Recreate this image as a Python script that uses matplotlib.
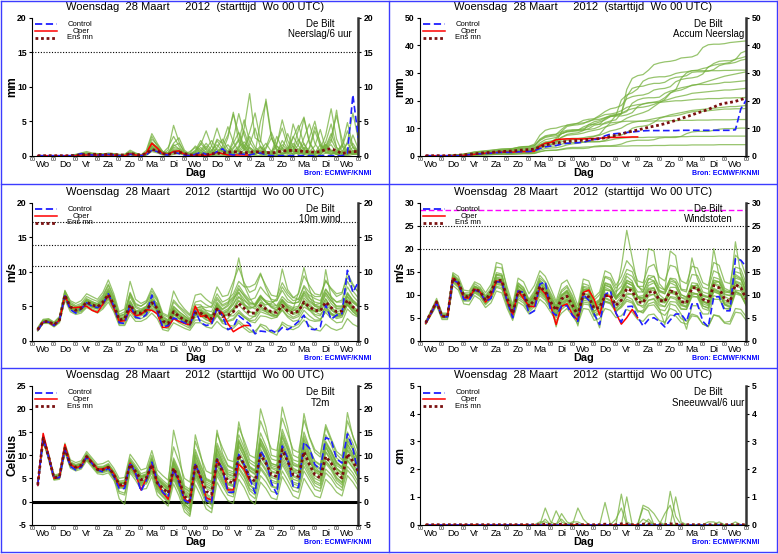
"""
EPS pluim De Bilt, 28 maart 2012: six panels in a blue frame.
"""

import matplotlib
matplotlib.use("Agg")
import matplotlib.pyplot as plt
from matplotlib.lines import Line2D

plt.rcParams["font.family"] = ["Liberation Sans", "DejaVu Sans"]
plt.rcParams["axes.unicode_minus"] = False

W, H = 778, 554

hours = list(range(6, 361, 6))
oper_hours = hours[:40]
day_names = ["Wo", "Do", "Vr", "Za", "Zo", "Ma", "Di", "Wo",
             "Do", "Vr", "Za", "Zo", "Ma", "Di", "Wo"]
title = "Woensdag  28 Maart     2012  (starttijd  Wo 00 UTC)"

# ---------------- Neerslag / 6 uur (mm)
precip_mean = [
    0, 0, 0, 0, 0, 0, 0, 0.05, 0.1, 0.2,
    0.2, 0.2, 0.15, 0.2, 0.2, 0.1, 0.1, 0.3, 0.2, 0.1,
    0.3, 0.9, 0.7, 0.3, 0.2, 0.4, 0.5, 0.3, 0.1, 0.1,
    0.1, 0.1, 0.3, 0.3, 0.4, 0.5, 0.6, 0.5, 0.4, 0.5,
    0.6, 0.5, 0.5, 0.4, 0.5, 0.7, 0.7, 0.8, 0.7, 0.6,
    0.6, 0.5, 0.6, 0.9, 1.0, 0.7, 0.3, 0.5, 0.6, 0.6]
precip_control = [
    0, 0, 0, 0, 0, 0, 0, 0.1, 0.3, 0.2,
    0.1, 0.1, 0.1, 0.2, 0.1, 0, 0, 0.2, 0.1, 0,
    0.1, 0.8, 0.6, 0.2, 0.1, 0.5, 0.3, 0.1, 0, 0.2,
    0.5, 0.2, 0.1, 0.6, 1.0, 0.3, 0.1, 0.3, 0.2, 0.1,
    0.3, 0.4, 0.1, 0, 0, 0, 0, 0, 0, 0,
    0, 0, 0, 0, 0, 0, 0, 0.3, 8.8, 2.6]
precip_oper = [
    0, 0, 0, 0, 0, 0, 0, 0, 0.1, 0.1,
    0.1, 0.1, 0.1, 0.1, 0.1, 0, 0, 0.3, 0.1, 0,
    0.4, 1.8, 1.1, 0.3, 0.2, 0.6, 0.7, 0.2, 0, 0.1,
    0.1, 0, 0.2, 0.5, 0.3, 0.1, 0.1, 0.1, 0.1, 0.1]
precip_members = [
    [0, 0, 0, 0, 0, 0, 0, 0.1, 0.3, 0.4,
     0.3, 0.2, 0.1, 0.3, 0.2, 0, 0.1, 0.5, 0.2, 0,
     0.6, 2.8, 1.4, 0.4, 0.2, 1.0, 0.8, 0.2, 0, 0,
     0, 0.2, 0.8, 1.6, 0.6, 0.2, 2.4, 6.1, 3.0, 0.4,
     0.2, 1.2, 0.6, 0, 0.4, 2.2, 1.0, 0.2, 0.6, 1.8,
     0.4, 0, 0.2, 1.0, 2.4, 0.8, 0.2, 0.6, 1.2, 0.4],
    [0, 0, 0, 0, 0, 0, 0, 0, 0.1, 0.2,
     0.2, 0.1, 0.1, 0.2, 0.1, 0, 0, 0.2, 0.1, 0,
     0.2, 1.2, 0.8, 0.2, 0.8, 4.4, 2.0, 0.4, 0.2, 0.4,
     1.2, 0.4, 0.2, 0.6, 1.0, 0.4, 0.2, 1.0, 3.6, 1.2,
     0.6, 0.2, 0, 0.2, 1.4, 0.8, 0.4, 4.6, 2.2, 0.8,
     0.2, 0.6, 0.4, 1.6, 0.8, 0.2, 0, 0.4, 3.0, 1.0],
    [0, 0, 0, 0, 0, 0, 0, 0.2, 0.4, 0.6,
     0.4, 0.3, 0.2, 0.4, 0.3, 0.1, 0.2, 0.8, 0.4, 0.1,
     0.4, 1.8, 1.2, 0.6, 0.2, 0.8, 0.6, 0.2, 0.4, 1.4,
     0.8, 0.2, 0, 0.2, 0.6, 2.6, 6.3, 2.0, 0.8, 1.6,
     4.0, 1.2, 0.4, 0.2, 0, 0.4, 1.2, 0.6, 0.2, 0.8,
     2.6, 5.0, 1.6, 0.4, 0.6, 0.2, 0, 0.2, 0.8, 0.4],
    [0, 0, 0, 0, 0, 0, 0, 0, 0, 0.1,
     0.1, 0.1, 0.2, 0.1, 0.1, 0, 0, 0.1, 0.1, 0,
     0.1, 0.6, 0.4, 0.1, 0, 0.2, 0.3, 0.1, 0, 0,
     0.2, 0.6, 0.2, 0, 0, 0.2, 0.4, 0.8, 0.4, 0.2,
     0, 0, 0.2, 0.6, 0.2, 0, 0, 0.4, 1.0, 0.6,
     0.2, 0, 0, 0.4, 0.8, 0.2, 0, 0.2, 0.4, 0.2],
    [0, 0, 0, 0, 0, 0, 0, 0.1, 0.2, 0.3,
     0.3, 0.2, 0.1, 0.2, 0.2, 0.1, 0.1, 0.4, 0.2, 0,
     0.2, 1.0, 0.6, 0.2, 0.4, 1.6, 1.0, 0.4, 0.2, 0.8,
     2.2, 1.0, 0.4, 1.0, 0.6, 0.2, 0.6, 1.4, 4.0, 9.0,
     2.6, 2.0, 8.2, 3.0, 0.6, 0.2, 0.6, 1.4, 0.4, 0.2,
     1.0, 3.6, 1.4, 0.4, 0.2, 0.6, 1.6, 0.6, 0.2, 0.2],
    [0, 0, 0, 0, 0, 0, 0, 0, 0.1, 0.2,
     0.1, 0.1, 0.1, 0.2, 0.2, 0.1, 0, 0.3, 0.2, 0.1,
     0.3, 1.4, 1.0, 0.4, 1.2, 2.8, 1.4, 0.2, 0, 0.2,
     0.6, 1.4, 0.4, 2.2, 1.0, 0.2, 0, 0.4, 0.8, 2.8,
     1.2, 0.6, 0.2, 0.4, 1.8, 4.0, 1.4, 0.6, 1.6, 5.4,
     2.0, 0.6, 0.2, 0.8, 2.0, 6.6, 1.4, 0.2, 0.4, 0.6],
    [0, 0, 0, 0, 0, 0, 0, 0.1, 0.2, 0.2,
     0.2, 0.3, 0.2, 0.3, 0.3, 0.2, 0.2, 0.6, 0.3, 0.1,
     0.8, 3.2, 1.8, 0.6, 0.2, 0.6, 0.4, 0.2, 0.6, 1.2,
     0.4, 0.2, 1.4, 4.0, 1.6, 0.6, 1.2, 2.4, 1.0, 0.4,
     0.2, 0.8, 1.8, 0.6, 0.2, 1.0, 3.2, 1.2, 0.4, 0.2,
     0.6, 1.4, 3.8, 1.0, 0.4, 0.2, 0.6, 1.8, 0.6, 0.8],
    [0, 0, 0, 0, 0, 0, 0, 0, 0.1, 0.1,
     0.1, 0.1, 0.1, 0.1, 0.1, 0, 0, 0.2, 0.1, 0,
     0.1, 0.8, 0.6, 0.2, 0.1, 0.4, 0.6, 0.4, 0.2, 0.4,
     0.2, 0, 0, 0.4, 1.2, 0.6, 0.2, 0.8, 1.6, 0.6,
     0.2, 0.4, 1.0, 2.6, 1.0, 0.2, 0.4, 0.8, 2.4, 1.0,
     0.4, 0.2, 0.6, 2.0, 4.6, 1.2, 0.2, 0, 0.2, 0.4],
    [0, 0, 0, 0, 0, 0, 0, 0.1, 0.3, 0.4,
     0.2, 0.2, 0.2, 0.3, 0.2, 0.1, 0.1, 0.4, 0.2, 0.1,
     0.4, 2.0, 1.2, 0.4, 0.4, 1.8, 2.6, 0.8, 0.2, 0.2,
     0.4, 1.0, 2.2, 0.8, 0.2, 0.4, 1.8, 3.4, 1.4, 0.4,
     0.2, 0.6, 0.4, 0.2, 0.6, 1.6, 0.8, 0.2, 0.4, 1.2,
     0.6, 0.2, 0.4, 1.2, 2.8, 5.8, 2.4, 0.6, 0.2, 0.4],
    [0, 0, 0, 0, 0, 0, 0, 0, 0.1, 0.2,
     0.2, 0.2, 0.1, 0.2, 0.2, 0.1, 0.1, 0.2, 0.1, 0,
     0.2, 1.0, 0.6, 0.2, 0.2, 0.6, 0.4, 0.2, 0, 0.2,
     0.4, 0.2, 0.6, 2.4, 1.8, 4.2, 2.0, 0.6, 0.2, 0,
     0.6, 1.4, 0.6, 0.2, 0, 0.2, 0.8, 2.8, 1.4, 0.4,
     0.2, 0.4, 1.6, 0.8, 0.2, 0.6, 1.4, 4.8, 1.4, 0.6],
    [0, 0, 0, 0, 0, 0, 0, 0.1, 0.1, 0.2,
     0.2, 0.2, 0.2, 0.2, 0.2, 0.1, 0.1, 0.3, 0.2, 0.1,
     0.2, 1.6, 1.2, 0.4, 0.2, 0.8, 0.6, 0.2, 0, 0,
     0, 0, 0.2, 0.6, 0.2, 0, 0.2, 1.2, 2.0, 1.0,
     0.4, 5.0, 7.8, 2.6, 0.8, 0.2, 0.6, 1.8, 0.8, 0.2,
     0, 0.2, 0.8, 1.6, 0.6, 0.2, 0.4, 1.0, 0.4, 0.2],
    [0, 0, 0, 0, 0, 0, 0, 0, 0.2, 0.3,
     0.2, 0.1, 0.1, 0.2, 0.2, 0, 0, 0.3, 0.2, 0,
     0.2, 1.2, 0.8, 0.2, 0.1, 0.6, 0.8, 0.4, 0.2, 0.6,
     1.8, 0.8, 0.2, 0.4, 0.8, 1.6, 0.6, 0.2, 0.4, 1.2,
     0.6, 0.2, 0.6, 0.4, 2.8, 1.0, 0.4, 0.2, 0.6, 2.6,
     4.6, 1.8, 0.6, 1.4, 3.2, 1.2, 0.4, 2.0, 6.2, 2.4],
    [0, 0, 0, 0, 0, 0, 0, 0.1, 0.2, 0.3,
     0.2, 0.2, 0.2, 0.3, 0.2, 0.1, 0.1, 0.4, 0.3, 0.1,
     0.4, 2.4, 1.6, 0.6, 0.4, 1.2, 1.0, 0.4, 0.2, 0.4,
     0.8, 1.8, 0.8, 0.4, 1.4, 3.0, 6.0, 3.2, 1.0, 0.4,
     0.2, 0.6, 1.2, 3.4, 1.4, 0.4, 0.2, 1.0, 3.8, 5.6,
     1.8, 0.6, 0.2, 1.0, 1.6, 0.4, 0.2, 0.8, 1.8, 0.6],
    [0, 0, 0, 0, 0, 0, 0, 0, 0.1, 0.2,
     0.1, 0.1, 0.1, 0.2, 0.1, 0, 0, 0.2, 0.1, 0,
     0.2, 1.4, 0.8, 0.2, 0.2, 1.4, 1.8, 0.6, 0.2, 0.6,
     1.6, 3.6, 1.4, 0.4, 0.2, 0.4, 1.0, 2.2, 5.2, 2.0,
     0.8, 0.4, 0.2, 0.6, 1.6, 5.2, 2.2, 0.6, 0.2, 0.4,
     1.2, 4.2, 2.0, 0.6, 0.2, 0.4, 1.2, 3.6, 1.2, 0.4],
    [0, 0, 0, 0, 0, 0, 0, 0.1, 0.2, 0.2,
     0.2, 0.2, 0.2, 0.2, 0.2, 0.1, 0.1, 0.3, 0.2, 0.1,
     0.3, 1.8, 1.0, 0.4, 0.2, 0.6, 0.6, 0.2, 0, 0.2,
     0.4, 0.4, 0.2, 1.2, 2.4, 1.0, 0.4, 0.6, 1.2, 3.4,
     6.2, 2.2, 0.6, 0.2, 0.4, 1.2, 0.6, 2.6, 4.4, 1.6,
     0.6, 0.4, 1.0, 3.0, 6.8, 2.4, 0.6, 0.4, 0.6, 0.2],
]

# ---------------- Accum neerslag (mm)
accum_mean = [
    0, 0, 0, 0, 0, 0.1, 0.2, 0.3, 0.5, 0.7,
    0.9, 1.1, 1.2, 1.4, 1.5, 1.6, 1.7, 1.9, 2.1, 2.2,
    2.4, 3.2, 3.9, 4.3, 4.6, 4.9, 5.2, 5.4, 5.5, 5.6,
    5.8, 6.0, 6.2, 6.5, 7.0, 7.4, 7.9, 8.4, 8.9, 9.3,
    9.8, 10.3, 10.7, 11.1, 11.6, 12.2, 12.8, 13.5, 14.1, 14.8,
    15.5, 16.1, 16.8, 17.6, 18.5, 19.0, 19.3, 19.7, 20.3, 21.0]
accum_control = [
    0, 0, 0, 0, 0, 0, 0, 0.1, 0.4, 0.6,
    0.7, 0.8, 0.9, 1.1, 1.2, 1.2, 1.2, 1.4, 1.5, 1.5,
    1.8, 2.6, 3.2, 3.5, 3.7, 4.2, 4.5, 4.6, 4.7, 4.9,
    5.4, 5.8, 6.2, 7.2, 7.8, 8.0, 8.2, 8.4, 8.6, 8.8,
    9.0, 9.1, 9.1, 9.1, 9.1, 9.1, 9.1, 9.2, 9.2, 9.2,
    9.2, 9.2, 9.2, 9.2, 9.2, 9.2, 9.2, 9.4, 17.0, 20.2]
accum_oper = [
    0, 0, 0, 0, 0, 0, 0, 0.1, 0.3, 0.5,
    0.7, 0.9, 1.0, 1.2, 1.3, 1.3, 1.3, 1.4, 1.5, 1.5,
    1.6, 3.5, 4.5, 4.8, 5.8, 6.0, 6.1, 6.1, 6.1, 6.1,
    6.2, 6.2, 6.3, 6.5, 6.6, 6.6, 6.7, 6.7, 6.8, 6.8]
accum_members = [
    [0, 0, 0, 0, 0, 0.1, 0.2, 0.4, 0.7, 1.0,
     1.2, 1.4, 1.5, 1.8, 2.0, 2.1, 2.2, 2.6, 2.8, 2.9,
     3.4, 6.0, 7.2, 7.6, 7.8, 8.6, 9.2, 9.4, 9.4, 9.4,
     9.5, 9.8, 10.6, 12.0, 12.6, 13.0, 15.4, 21.5, 24.4, 25.0,
     25.2, 25.8, 26.2, 26.2, 26.6, 27.8, 28.4, 28.6, 29.0, 30.2,
     30.4, 30.4, 30.6, 31.2, 32.6, 33.2, 33.4, 33.8, 34.6, 35.0],
    [0, 0, 0, 0, 0, 0, 0.1, 0.2, 0.4, 0.6,
     0.8, 0.9, 1.0, 1.2, 1.3, 1.3, 1.3, 1.5, 1.6, 1.6,
     1.8, 3.0, 3.8, 4.0, 4.8, 8.8, 10.6, 11.0, 11.2, 11.6,
     12.6, 13.0, 13.2, 13.8, 14.6, 15.0, 15.2, 16.0, 19.0, 20.2,
     20.8, 21.0, 21.0, 21.2, 22.6, 23.4, 23.8, 28.0, 30.0, 30.8,
     31.0, 31.6, 32.0, 33.4, 34.2, 34.4, 34.4, 34.8, 37.2, 38.0],
    [0, 0, 0, 0, 0, 0.1, 0.3, 0.6, 1.0, 1.4,
     1.6, 1.8, 2.0, 2.2, 2.4, 2.5, 2.6, 3.0, 3.2, 3.3,
     3.7, 5.5, 6.6, 7.0, 7.2, 8.0, 8.6, 8.8, 9.2, 10.4,
     11.2, 11.4, 11.4, 11.6, 12.2, 14.6, 20.2, 22.0, 22.8, 24.2,
     27.0, 28.0, 28.4, 28.6, 28.6, 29.0, 29.8, 30.2, 30.4, 30.8,
     30.8, 30.8, 30.8, 30.8, 30.8, 30.9, 30.9, 31.0, 31.0, 31.0],
    [0, 0, 0, 0, 0, 0, 0, 0, 0, 0.1,
     0.2, 0.3, 0.4, 0.5, 0.6, 0.6, 0.6, 0.7, 0.8, 0.8,
     0.9, 1.5, 1.9, 2.0, 2.0, 2.2, 2.5, 2.6, 2.6, 2.6,
     2.8, 3.4, 3.6, 3.6, 3.6, 3.8, 4.2, 5.0, 5.4, 5.6,
     5.6, 5.6, 5.8, 6.4, 6.6, 6.6, 6.6, 7.0, 8.0, 8.6,
     8.8, 8.8, 8.8, 9.2, 9.6, 9.8, 9.8, 9.9, 10.0, 10.0],
    [0, 0, 0, 0, 0, 0.1, 0.2, 0.4, 0.6, 0.9,
     1.2, 1.4, 1.5, 1.7, 1.9, 2.0, 2.1, 2.5, 2.7, 2.7,
     2.9, 3.9, 4.5, 4.7, 5.1, 6.7, 7.7, 8.1, 8.3, 9.1,
     11.3, 12.3, 12.7, 13.7, 14.3, 14.5, 15.1, 24.0, 28.0, 29.0,
     29.4, 31.0, 33.0, 33.6, 34.0, 34.2, 34.6, 35.4, 35.6, 35.8,
     36.6, 39.2, 40.2, 40.4, 40.4, 40.6, 41.0, 41.2, 41.4, 41.6],
    [0, 0, 0, 0, 0, 0, 0.1, 0.2, 0.3, 0.5,
     0.6, 0.7, 0.8, 1.0, 1.2, 1.3, 1.3, 1.6, 1.8, 1.9,
     2.2, 3.6, 4.6, 5.0, 6.2, 8.0, 8.8, 9.0, 9.0, 9.2,
     9.8, 11.0, 11.4, 13.4, 14.2, 14.4, 14.4, 14.8, 15.6, 17.8,
     18.8, 19.2, 19.4, 19.8, 21.0, 22.8, 23.4, 23.8, 24.6, 25.6,
     25.8, 25.8, 25.8, 26.0, 26.2, 26.6, 26.6, 26.8, 27.0, 27.2],
    [0, 0, 0, 0, 0, 0.1, 0.2, 0.3, 0.5, 0.7,
     0.9, 1.2, 1.4, 1.7, 2.0, 2.2, 2.4, 3.0, 3.3, 3.4,
     4.2, 7.4, 9.2, 9.8, 10.0, 10.6, 11.0, 11.2, 11.8, 12.8,
     13.2, 13.4, 14.6, 16.0, 17.0, 17.4, 18.2, 20.6, 21.4, 21.8,
     22.0, 22.6, 23.8, 24.2, 24.4, 25.0, 26.8, 27.6, 28.0, 28.2,
     28.6, 29.6, 32.2, 32.8, 33.2, 33.4, 33.8, 35.0, 35.4, 36.0],
    [0, 0, 0, 0, 0, 0, 0, 0.1, 0.2, 0.3,
     0.4, 0.5, 0.6, 0.7, 0.8, 0.8, 0.8, 1.0, 1.1, 1.1,
     1.2, 2.0, 2.6, 2.8, 2.9, 3.3, 3.9, 4.3, 4.5, 4.9,
     5.1, 5.1, 5.1, 5.5, 6.7, 7.3, 7.5, 8.3, 9.9, 10.5,
     10.7, 11.1, 12.1, 13.5, 14.1, 14.3, 14.5, 14.9, 15.5, 15.9,
     16.1, 16.1, 16.3, 16.5, 16.7, 16.9, 16.9, 17.0, 17.0, 17.1],
    [0, 0, 0, 0, 0, 0.1, 0.3, 0.6, 0.9, 1.3,
     1.5, 1.7, 1.9, 2.2, 2.4, 2.5, 2.6, 3.0, 3.2, 3.3,
     3.7, 5.7, 6.9, 7.3, 7.7, 9.5, 11.1, 11.5, 11.7, 11.9,
     12.3, 13.3, 14.1, 14.9, 15.1, 15.5, 16.3, 17.5, 18.1, 18.5,
     18.7, 19.1, 19.3, 19.3, 19.5, 19.7, 19.9, 19.9, 20.1, 20.3,
     20.5, 20.5, 20.7, 20.7, 20.7, 20.9, 20.9, 21.0, 21.0, 21.1],
    [0, 0, 0, 0, 0, 0.1, 0.2, 0.3, 0.5, 0.7,
     0.9, 1.0, 1.1, 1.3, 1.4, 1.5, 1.6, 1.9, 2.0, 2.1,
     2.4, 3.8, 4.6, 4.9, 5.1, 5.7, 6.1, 6.3, 6.3, 6.5,
     6.9, 7.1, 7.7, 10.1, 11.9, 12.1, 12.3, 12.5, 12.5, 12.5,
     12.5, 12.5, 12.6, 12.6, 12.6, 12.7, 12.7, 12.8, 12.8, 12.8,
     12.9, 12.9, 12.9, 13.0, 13.0, 13.0, 13.0, 13.1, 13.1, 13.1],
    [0, 0, 0, 0, 0, 0, 0.1, 0.2, 0.3, 0.4,
     0.5, 0.6, 0.7, 0.8, 0.9, 0.9, 0.9, 1.1, 1.2, 1.2,
     1.4, 2.6, 3.2, 3.4, 3.6, 4.2, 4.6, 4.8, 4.8, 4.9,
     5.0, 5.0, 5.1, 5.3, 5.7, 6.1, 6.3, 6.5, 6.6, 6.6,
     6.6, 6.7, 6.7, 6.8, 6.8, 6.8, 6.9, 6.9, 6.9, 7.0,
     7.0, 7.0, 7.0, 7.0, 7.1, 7.1, 7.1, 7.1, 7.1, 7.1],
    [0, 0, 0, 0, 0, 0, 0, 0.1, 0.2, 0.2,
     0.3, 0.3, 0.4, 0.5, 0.5, 0.5, 0.5, 0.6, 0.7, 0.7,
     0.8, 1.4, 1.8, 1.9, 2.0, 2.4, 2.8, 3.0, 3.0, 3.1,
     3.2, 3.2, 3.3, 3.4, 3.4, 3.4, 3.5, 3.5, 3.6, 3.6,
     3.6, 3.6, 3.7, 3.7, 3.7, 3.8, 3.8, 3.8, 3.8, 3.9,
     3.9, 3.9, 3.9, 3.9, 4.0, 4.0, 4.0, 4.0, 4.0, 4.0],
    [0, 0, 0, 0, 0, 0.1, 0.2, 0.4, 0.6, 0.8,
     1.0, 1.2, 1.3, 1.5, 1.7, 1.8, 1.9, 2.2, 2.4, 2.5,
     2.8, 4.6, 5.8, 6.2, 6.6, 8.0, 8.8, 9.2, 9.4, 9.8,
     10.6, 11.6, 12.2, 13.0, 14.2, 14.8, 15.4, 16.4, 17.0, 17.4,
     17.6, 18.0, 18.6, 19.4, 20.0, 20.6, 21.2, 21.6, 22.0, 22.6,
     22.8, 23.0, 23.2, 23.4, 23.6, 23.8, 23.8, 24.0, 24.2, 24.4],
    [0, 0, 0, 0, 0, 0, 0.1, 0.2, 0.4, 0.5,
     0.6, 0.7, 0.8, 1.0, 1.1, 1.2, 1.2, 1.4, 1.5, 1.6,
     1.8, 3.2, 4.0, 4.2, 4.4, 5.0, 5.6, 5.8, 5.8, 6.0,
     6.4, 7.0, 7.4, 8.2, 9.0, 9.4, 10.0, 11.2, 12.0, 12.4,
     12.6, 13.0, 13.4, 13.8, 14.2, 14.8, 15.2, 15.6, 16.0, 16.4,
     16.6, 16.8, 17.0, 17.2, 17.4, 17.6, 17.8, 17.8, 18.0, 18.2],
    [0, 0, 0, 0, 0, 0.1, 0.2, 0.3, 0.5, 0.7,
     0.8, 1.0, 1.1, 1.3, 1.5, 1.6, 1.6, 1.9, 2.0, 2.1,
     2.4, 4.0, 5.0, 5.3, 5.6, 6.6, 7.4, 7.6, 7.8, 8.2,
     8.8, 9.2, 9.6, 10.4, 11.0, 11.6, 12.4, 13.6, 14.4, 15.0,
     15.6, 16.4, 17.8, 19.2, 20.4, 22.6, 24.0, 24.6, 25.0, 25.4,
     25.8, 26.4, 27.0, 27.6, 28.2, 28.8, 29.2, 29.6, 30.0, 30.4],
]

# ---------------- 10m wind (m/s)
wind_mean = [
    1.6, 2.75, 2.8, 2.3, 3.0, 6.6, 4.9, 4.4, 4.7, 5.6,
    5.2, 4.9, 5.6, 6.7, 5.2, 3.0, 3.2, 5.2, 4.0, 4.0,
    4.4, 5.5, 4.7, 2.85, 2.5, 4.2, 3.5, 3.0, 2.5, 4.0,
    4.0, 3.5, 3.2, 4.6, 3.5, 3.7, 4.2, 5.4, 4.7, 4.0,
    4.0, 5.1, 4.6, 4.2, 4.1, 5.1, 4.3, 4.0, 4.3, 5.6,
    4.9, 4.4, 4.3, 5.6, 4.8, 4.2, 4.3, 5.9, 4.9, 4.3]
wind_control = [
    1.5, 2.7, 2.7, 2.2, 3.0, 6.5, 4.5, 4.0, 4.6, 5.5,
    5.0, 4.8, 5.3, 6.8, 5.0, 2.6, 2.5, 5.3, 3.4, 3.2,
    3.8, 6.6, 4.2, 2.0, 2.2, 3.3, 3.0, 2.6, 2.3, 4.3,
    2.6, 2.2, 2.4, 4.8, 3.6, 1.6, 2.0, 3.6, 3.0, 2.4,
    1.0, 1.4, 1.3, 1.5, 1.1, 1.9, 1.6, 2.1, 2.8, 3.7,
    1.7, 1.6, 2.0, 5.2, 3.1, 3.7, 3.9, 10.2, 7.0, 8.5]
wind_oper = [
    1.6, 2.7, 2.7, 2.2, 3.0, 6.5, 4.8, 4.8, 4.9, 5.0,
    4.4, 4.1, 5.3, 6.6, 4.7, 2.8, 2.9, 4.5, 3.6, 3.8,
    4.5, 4.4, 3.9, 1.9, 2.0, 3.2, 2.8, 2.5, 2.3, 5.0,
    3.5, 3.7, 2.6, 4.6, 4.0, 2.5, 1.3, 1.8, 2.2, 2.2]
wind_members = [
    [1.7, 2.9, 3.0, 2.5, 3.2, 7.1, 5.3, 4.9, 5.2, 6.1,
     5.7, 5.3, 6.2, 7.6, 6.0, 3.4, 3.8, 6.4, 4.8, 4.4,
     5.0, 6.6, 5.2, 3.3, 2.9, 5.0, 4.2, 3.6, 3.0, 4.6,
     4.4, 3.8, 3.2, 5.6, 4.6, 5.2, 8.0, 12.0, 8.0, 6.2,
     5.0, 6.0, 4.8, 3.9, 3.6, 5.0, 4.0, 3.4, 3.8, 6.2,
     5.3, 4.6, 4.2, 5.7, 4.6, 3.8, 3.7, 6.4, 5.5, 4.9],
    [1.5, 2.6, 2.7, 2.1, 2.8, 6.2, 4.6, 4.1, 4.3, 5.2,
     4.8, 4.6, 5.1, 6.2, 4.7, 2.6, 2.7, 4.6, 3.5, 3.6,
     3.9, 4.8, 4.1, 2.3, 2.0, 3.5, 2.9, 2.5, 2.0, 3.4,
     3.6, 3.0, 2.8, 3.8, 2.7, 2.9, 3.2, 4.1, 3.4, 2.8,
     2.6, 3.6, 3.5, 3.2, 3.4, 4.8, 4.2, 4.6, 7.0, 10.6,
     7.5, 5.2, 4.8, 6.0, 4.9, 4.0, 3.9, 5.2, 4.2, 3.5],
    [1.6, 2.8, 2.9, 2.4, 3.1, 6.8, 5.0, 4.5, 4.8, 5.8,
     5.3, 5.1, 5.9, 7.2, 5.6, 3.2, 3.5, 5.8, 4.4, 4.3,
     4.8, 5.9, 5.1, 3.1, 2.8, 4.7, 3.9, 3.4, 2.8, 4.5,
     4.6, 4.0, 3.7, 5.0, 3.8, 3.6, 3.6, 4.4, 3.6, 3.1,
     3.6, 5.6, 5.2, 5.4, 6.1, 10.4, 7.4, 6.3, 6.0, 7.8,
     6.3, 5.0, 4.6, 6.1, 4.8, 4.2, 4.4, 6.8, 5.6, 5.0],
    [1.5, 2.7, 2.7, 2.2, 2.9, 6.4, 4.7, 4.3, 4.5, 5.3,
     4.9, 4.6, 5.2, 6.3, 4.8, 2.8, 2.9, 4.8, 3.7, 3.8,
     4.1, 5.2, 4.4, 2.5, 2.1, 3.8, 3.2, 2.7, 2.2, 3.7,
     3.7, 3.1, 2.6, 3.7, 2.5, 2.3, 2.1, 2.9, 2.2, 1.6,
     1.0, 2.4, 2.1, 1.2, 0.8, 2.7, 2.2, 2.0, 2.4, 3.6,
     3.0, 2.8, 2.9, 4.4, 3.8, 3.5, 3.7, 5.3, 4.4, 3.8],
    [1.8, 3.0, 3.1, 2.6, 3.4, 7.3, 5.6, 5.1, 5.4, 6.4,
     6.0, 5.7, 6.6, 8.2, 6.4, 3.8, 4.2, 7.0, 5.4, 5.0,
     5.5, 6.8, 5.8, 3.8, 3.4, 5.9, 5.0, 4.3, 3.6, 5.6,
     5.8, 5.2, 4.8, 6.3, 5.2, 5.6, 6.4, 8.0, 6.8, 5.9,
     6.2, 7.8, 6.8, 6.0, 5.8, 7.3, 6.0, 5.4, 5.6, 6.9,
     5.8, 5.2, 5.4, 7.4, 6.2, 5.6, 5.9, 8.6, 7.2, 6.2],
    [1.6, 2.7, 2.8, 2.3, 3.0, 6.5, 4.8, 4.4, 4.6, 5.5,
     5.1, 4.8, 5.5, 6.6, 5.1, 2.9, 3.0, 4.9, 3.7, 3.8,
     4.3, 5.6, 4.8, 2.6, 2.3, 4.0, 3.4, 2.9, 2.4, 3.8,
     3.8, 3.4, 3.4, 4.9, 3.9, 4.3, 5.2, 7.0, 6.0, 5.0,
     4.6, 5.5, 4.6, 3.9, 3.6, 4.5, 3.6, 3.2, 3.5, 4.9,
     4.4, 4.4, 4.8, 6.9, 5.8, 5.0, 5.0, 7.0, 5.8, 5.0],
    [1.7, 2.8, 2.8, 2.3, 3.1, 6.7, 4.9, 4.5, 4.8, 5.7,
     5.2, 4.9, 5.7, 6.9, 5.3, 3.1, 3.3, 5.4, 4.1, 4.1,
     4.6, 5.8, 4.9, 2.9, 2.6, 4.4, 3.6, 3.1, 2.6, 4.2,
     4.3, 3.9, 3.6, 5.4, 4.2, 4.6, 5.4, 6.4, 5.2, 4.6,
     5.0, 6.4, 5.6, 5.0, 4.8, 5.8, 4.6, 4.0, 4.2, 5.4,
     4.4, 3.6, 3.1, 4.1, 3.2, 2.6, 2.7, 4.6, 3.8, 3.4],
    [1.5, 2.7, 2.7, 2.2, 2.9, 6.3, 4.6, 4.2, 4.5, 5.4,
     5.0, 4.7, 5.4, 6.5, 5.0, 2.8, 3.0, 4.9, 3.8, 3.9,
     4.2, 5.3, 4.4, 2.6, 2.3, 3.9, 3.2, 2.8, 2.3, 3.8,
     4.0, 3.7, 3.6, 5.3, 4.5, 5.0, 6.0, 7.6, 6.4, 5.4,
     5.4, 6.6, 5.6, 4.8, 4.4, 5.4, 4.4, 3.8, 4.0, 5.5,
     5.0, 4.6, 4.4, 5.3, 4.4, 3.9, 4.0, 5.6, 4.6, 4.0],
    [1.6, 2.8, 2.9, 2.3, 3.0, 6.6, 5.0, 4.6, 4.9, 5.9,
     5.5, 5.1, 5.8, 7.0, 5.4, 3.1, 3.3, 5.4, 4.2, 4.2,
     4.6, 5.7, 4.9, 3.0, 2.7, 4.5, 3.8, 3.2, 2.7, 4.4,
     4.4, 3.6, 2.9, 4.0, 2.9, 2.8, 3.0, 4.0, 3.4, 2.9,
     3.0, 4.2, 3.9, 3.6, 3.7, 5.0, 4.4, 4.3, 4.9, 7.0,
     6.2, 5.6, 5.4, 7.0, 5.8, 5.0, 5.0, 6.4, 5.0, 4.3],
    [1.7, 2.9, 2.9, 2.4, 3.2, 6.9, 5.1, 4.6, 4.9, 5.8,
     5.4, 5.1, 5.9, 7.2, 5.5, 3.3, 3.5, 5.7, 4.3, 4.2,
     4.6, 5.6, 4.6, 2.8, 2.6, 4.3, 3.7, 3.2, 2.8, 4.1,
     3.9, 3.3, 3.0, 4.4, 3.5, 3.8, 4.6, 6.3, 5.8, 5.2,
     5.2, 6.5, 5.6, 4.9, 4.5, 5.8, 4.9, 4.4, 4.4, 5.8,
     5.0, 4.2, 3.8, 4.8, 4.0, 3.6, 3.9, 5.6, 4.8, 4.4],
    [1.5, 2.6, 2.7, 2.2, 2.9, 6.4, 4.7, 4.2, 4.5, 5.4,
     5.0, 4.7, 5.4, 6.5, 5.0, 2.9, 3.1, 5.0, 3.9, 3.8,
     4.1, 5.1, 4.3, 2.6, 2.4, 3.9, 3.2, 2.8, 2.3, 3.7,
     3.8, 3.5, 3.4, 4.6, 3.6, 3.9, 4.5, 5.2, 4.3, 3.6,
     3.5, 4.5, 4.2, 4.0, 4.1, 5.6, 5.0, 4.6, 4.6, 5.5,
     4.5, 4.2, 4.4, 10.3, 6.2, 4.7, 4.8, 6.8, 5.9, 5.2],
    [1.6, 2.8, 2.8, 2.3, 3.0, 6.6, 4.9, 4.4, 4.8, 5.6,
     5.2, 4.9, 5.6, 6.8, 5.2, 3.0, 3.2, 5.1, 3.9, 3.9,
     4.4, 5.6, 4.8, 2.9, 2.6, 4.3, 3.6, 3.1, 2.5, 4.0,
     4.1, 3.7, 3.5, 4.9, 3.9, 4.1, 4.7, 5.8, 5.2, 4.8,
     4.9, 6.2, 5.6, 5.2, 5.1, 6.4, 5.6, 5.4, 5.6, 7.2,
     6.6, 6.1, 5.8, 7.5, 6.4, 5.6, 5.6, 7.8, 6.5, 5.6],
    [1.9, 3.1, 3.2, 2.7, 3.5, 7.2, 5.8, 5.4, 5.8, 6.8,
     6.4, 6.0, 7.0, 8.8, 6.8, 4.2, 4.6, 8.6, 6.0, 5.4,
     5.8, 7.6, 6.2, 4.0, 3.6, 7.2, 5.6, 4.6, 3.8, 6.6,
     6.8, 6.0, 5.4, 7.8, 6.4, 6.6, 8.6, 10.6, 8.4, 7.0,
     7.4, 9.6, 8.0, 6.6, 6.4, 8.4, 7.0, 6.2, 6.8, 9.4,
     8.0, 6.8, 6.6, 8.8, 7.4, 6.4, 6.8, 9.8, 8.2, 7.0],
    [1.4, 2.5, 2.5, 2.0, 2.6, 5.9, 4.2, 3.8, 4.0, 4.8,
     4.4, 4.0, 4.6, 5.6, 4.2, 2.2, 2.2, 3.8, 2.8, 2.8,
     3.2, 4.0, 3.2, 1.6, 1.4, 2.6, 2.2, 1.8, 1.5, 2.6,
     2.6, 2.0, 1.8, 2.8, 2.0, 1.6, 1.8, 2.6, 1.8, 1.2,
     1.4, 2.2, 1.6, 1.2, 1.4, 2.4, 1.8, 1.6, 2.0, 3.0,
     2.2, 1.6, 1.4, 2.4, 1.8, 1.5, 1.8, 3.2, 2.4, 2.0],
    [1.6, 2.8, 2.8, 2.3, 3.0, 6.7, 5.0, 4.6, 4.8, 5.8,
     5.4, 5.2, 6.0, 7.4, 5.8, 3.6, 3.9, 6.8, 5.0, 4.6,
     5.0, 6.2, 5.0, 3.0, 2.6, 4.6, 3.6, 3.0, 2.6, 4.6,
     5.0, 4.8, 5.0, 6.8, 5.6, 6.0, 6.8, 8.6, 7.8, 7.8,
     8.2, 9.8, 7.6, 5.8, 5.0, 6.0, 4.8, 4.0, 4.2, 5.6,
     4.6, 3.8, 3.6, 5.0, 4.0, 3.4, 3.6, 5.4, 4.6, 4.0],
    [1.7, 2.9, 2.9, 2.4, 3.1, 6.9, 5.4, 4.9, 5.0, 6.0,
     5.6, 5.4, 6.4, 8.0, 6.2, 3.6, 3.8, 6.8, 5.2, 5.0,
     5.6, 7.2, 6.0, 3.6, 3.0, 5.6, 4.8, 4.0, 3.2, 5.2,
     5.2, 4.2, 3.6, 5.2, 4.0, 4.4, 5.8, 7.4, 6.6, 5.6,
     5.2, 6.4, 5.8, 5.6, 5.8, 7.8, 6.6, 5.8, 6.0, 8.0,
     7.0, 6.4, 6.4, 8.6, 7.6, 6.8, 7.0, 9.2, 8.0, 7.0],
    [1.5, 2.6, 2.6, 2.1, 2.8, 6.3, 4.5, 4.0, 4.2, 5.0,
     4.6, 4.3, 4.8, 6.0, 4.4, 2.4, 2.4, 4.2, 3.2, 3.2,
     3.6, 4.6, 3.8, 2.0, 1.7, 3.2, 2.6, 2.2, 1.8, 3.0,
     3.0, 2.6, 2.4, 3.6, 2.8, 3.2, 4.2, 5.8, 5.0, 4.2,
     4.0, 5.0, 4.4, 4.2, 4.4, 6.0, 5.2, 4.8, 5.0, 6.6,
     5.6, 5.0, 5.0, 6.6, 5.4, 4.6, 4.6, 6.0, 4.8, 4.0],
    [1.6, 2.7, 2.8, 2.3, 3.0, 6.5, 4.8, 4.3, 4.6, 5.4,
     5.0, 4.7, 5.4, 6.4, 5.0, 3.0, 3.2, 5.4, 4.2, 4.4,
     4.8, 6.0, 5.4, 3.4, 2.9, 4.9, 4.2, 3.6, 3.0, 4.8,
     4.8, 4.4, 4.2, 6.0, 5.0, 5.4, 6.2, 7.0, 5.4, 4.2,
     3.8, 4.8, 4.2, 3.6, 3.4, 4.4, 3.4, 2.8, 3.0, 4.4,
     3.6, 3.0, 3.0, 4.6, 3.8, 3.2, 3.4, 5.2, 4.2, 3.6],
]

# ---------------- Windstoten (m/s)
gust_mean = [
    3.9, 6.2, 8.4, 5.3, 5.3, 13.6, 12.6, 9.8, 9.4, 11.3,
    10.7, 8.8, 10.6, 13.1, 13.1, 9.1, 5.9, 10.7, 10.2, 7.5,
    8.8, 11.8, 10.7, 8.4, 6.6, 9.1, 9.7, 7.7, 5.5, 10.2,
    9.5, 7.0, 7.2, 9.8, 9.8, 7.7, 8.8, 11.3, 10.8, 8.5,
    8.2, 10.5, 10.8, 8.8, 8.5, 10.8, 10.5, 8.5, 8.2, 11.5,
    11.5, 9.0, 8.5, 12.0, 11.5, 9.0, 8.5, 12.2, 11.5, 9.0]
gust_control = [
    3.8, 6.0, 8.2, 5.2, 5.2, 13.2, 12.6, 9.0, 8.8, 11.0,
    10.6, 8.5, 9.2, 12.8, 12.8, 8.5, 5.0, 10.8, 10.5, 5.8,
    6.5, 12.3, 12.8, 6.5, 5.5, 7.5, 7.6, 5.5, 4.2, 10.0,
    8.8, 5.8, 3.5, 10.0, 10.8, 6.0, 4.0, 7.4, 7.5, 5.2,
    3.2, 4.6, 5.0, 4.2, 3.0, 4.5, 5.8, 5.8, 4.2, 8.0,
    8.0, 4.2, 3.0, 9.5, 9.6, 6.5, 6.5, 17.8, 17.5, 16.0]
gust_oper = [
    3.8, 6.0, 8.6, 5.3, 5.3, 13.6, 12.3, 9.3, 9.3, 11.2,
    10.6, 8.4, 9.8, 13.0, 12.7, 8.6, 5.6, 10.8, 9.2, 7.5,
    7.4, 11.5, 10.2, 7.6, 3.5, 7.5, 8.0, 5.7, 4.4, 10.5,
    11.0, 9.0, 5.6, 10.0, 9.5, 6.0, 3.6, 5.0, 6.8, 5.0]
gust_members = [
    [4.0, 6.3, 8.6, 5.6, 5.6, 14.2, 13.0, 10.2, 10.0, 11.8,
     11.2, 9.4, 10.8, 14.8, 14.5, 10.0, 6.8, 12.0, 11.0, 8.4,
     10.0, 13.2, 12.0, 9.6, 7.4, 10.0, 11.0, 9.0, 6.3, 11.6,
     11.2, 7.6, 8.6, 12.5, 12.0, 10.0, 16.0, 24.0, 18.0, 12.0,
     10.5, 13.5, 13.0, 10.0, 9.0, 11.0, 10.5, 8.0, 7.5, 10.5,
     10.0, 7.6, 7.0, 11.0, 10.5, 8.0, 8.0, 13.0, 12.5, 10.0],
    [3.7, 5.9, 8.1, 5.0, 5.0, 13.0, 12.0, 9.0, 9.0, 10.8,
     10.0, 8.2, 9.4, 12.2, 12.0, 8.2, 5.3, 9.8, 9.0, 6.8,
     8.0, 10.6, 9.4, 7.4, 5.6, 7.4, 8.6, 7.0, 4.8, 8.8,
     8.6, 5.6, 6.2, 8.6, 8.2, 6.6, 7.5, 9.0, 8.5, 6.5,
     6.2, 8.0, 8.4, 6.8, 6.5, 8.5, 8.4, 6.8, 6.8, 9.5,
     9.6, 7.5, 7.2, 10.6, 10.2, 8.0, 7.5, 10.8, 10.2, 8.0],
    [4.1, 6.4, 8.8, 5.8, 5.8, 14.5, 13.4, 10.4, 10.4, 12.4,
     11.6, 9.8, 11.4, 17.0, 16.6, 10.8, 7.2, 12.6, 11.6, 9.0,
     10.8, 14.2, 12.8, 10.4, 8.2, 11.0, 12.0, 9.8, 6.8, 12.4,
     12.0, 8.2, 9.0, 14.0, 13.6, 11.4, 12.8, 15.5, 15.0, 11.8,
     11.0, 20.0, 19.5, 12.4, 11.0, 13.5, 12.8, 10.0, 9.5, 12.0,
     11.4, 8.6, 8.0, 12.4, 11.6, 8.8, 8.5, 12.6, 11.6, 9.0],
    [3.8, 6.0, 8.3, 5.2, 5.2, 13.4, 12.2, 9.2, 9.2, 11.0,
     10.2, 8.5, 9.6, 12.6, 12.4, 8.6, 5.6, 10.2, 9.4, 7.0,
     8.4, 11.2, 9.8, 7.8, 3.0, 7.8, 9.0, 7.2, 3.2, 9.4,
     9.2, 6.0, 2.8, 9.4, 8.8, 7.0, 8.0, 9.6, 9.0, 6.6,
     6.0, 7.6, 7.8, 6.2, 5.5, 7.0, 6.5, 4.8, 4.2, 5.8,
     5.4, 3.6, 3.0, 5.6, 5.4, 4.0, 4.2, 7.0, 6.8, 5.2],
    [4.0, 6.2, 8.5, 5.4, 5.5, 13.9, 12.8, 9.8, 9.8, 11.6,
     10.8, 9.0, 10.4, 13.8, 13.6, 9.4, 6.4, 11.4, 10.4, 8.0,
     9.4, 12.4, 11.2, 9.0, 7.0, 9.2, 10.4, 8.4, 6.0, 10.8,
     10.6, 7.2, 8.0, 11.2, 10.8, 9.2, 10.8, 13.0, 12.6, 10.6,
     10.6, 13.4, 14.0, 11.6, 11.0, 19.5, 18.5, 11.0, 10.6, 18.0,
     13.4, 10.6, 10.2, 20.0, 14.0, 11.0, 10.5, 21.5, 14.2, 11.4],
    [3.9, 6.1, 8.4, 5.3, 5.3, 13.5, 12.4, 9.4, 9.4, 11.2,
     10.4, 8.7, 9.8, 12.9, 12.6, 8.8, 5.8, 10.6, 9.6, 7.4,
     8.8, 11.6, 10.2, 8.2, 6.2, 8.2, 9.4, 7.6, 5.2, 9.8,
     9.6, 6.4, 7.4, 11.0, 10.8, 9.0, 11.0, 14.0, 13.0, 9.5,
     8.4, 10.6, 11.0, 8.8, 8.4, 10.6, 10.4, 8.4, 8.0, 11.4,
     11.6, 9.2, 8.8, 12.6, 12.0, 9.6, 9.0, 12.8, 12.2, 9.6],
    [4.0, 6.2, 8.5, 5.5, 5.4, 13.8, 12.7, 9.6, 9.7, 11.5,
     10.8, 9.1, 10.2, 13.4, 13.2, 9.2, 6.2, 11.0, 10.0, 7.6,
     9.2, 12.0, 10.8, 8.6, 6.6, 8.8, 10.0, 8.2, 5.8, 10.2,
     10.0, 7.0, 7.6, 10.4, 9.8, 8.2, 9.6, 11.8, 11.4, 9.6,
     9.8, 12.6, 13.0, 10.6, 10.2, 13.0, 12.6, 10.0, 9.4, 12.0,
     11.4, 8.6, 7.8, 11.2, 10.6, 7.8, 7.2, 10.6, 10.0, 7.8],
    [3.8, 5.9, 8.2, 5.1, 5.1, 13.2, 12.2, 9.2, 9.1, 10.9,
     10.2, 8.4, 9.6, 12.4, 12.2, 8.4, 5.5, 10.0, 9.2, 7.0,
     8.4, 10.8, 9.6, 7.6, 5.8, 7.6, 8.8, 7.2, 4.9, 9.2,
     9.0, 6.0, 6.6, 9.2, 8.6, 7.0, 8.6, 10.4, 10.0, 7.8,
     7.6, 9.6, 10.2, 8.4, 8.2, 10.4, 10.4, 8.6, 8.6, 11.8,
     12.0, 9.6, 9.4, 13.2, 12.8, 10.2, 9.8, 14.0, 13.4, 10.6],
    [4.0, 6.3, 8.6, 5.5, 5.5, 14.0, 12.9, 9.9, 9.8, 11.8,
     11.0, 9.2, 10.6, 14.2, 14.0, 9.6, 6.6, 11.8, 10.8, 8.2,
     9.6, 12.8, 11.4, 9.2, 7.2, 9.6, 10.6, 8.6, 6.0, 11.0,
     10.8, 7.4, 8.0, 11.6, 11.0, 9.0, 10.0, 12.0, 11.0, 8.0,
     7.2, 8.8, 9.0, 7.0, 3.5, 8.0, 7.6, 5.8, 2.5, 7.6,
     7.6, 5.8, 5.8, 9.0, 9.0, 7.0, 7.0, 11.0, 10.8, 8.6],
    [3.9, 6.1, 8.4, 5.3, 5.3, 13.6, 12.5, 9.5, 9.5, 11.3,
     10.5, 8.8, 10.0, 13.2, 13.0, 9.0, 6.0, 10.8, 9.8, 7.6,
     9.0, 11.8, 10.6, 8.6, 6.6, 8.6, 9.8, 8.0, 5.6, 10.0,
     10.2, 7.4, 8.4, 12.0, 11.6, 9.4, 10.4, 12.6, 12.0, 9.4,
     9.0, 11.2, 11.4, 9.2, 8.8, 11.0, 10.6, 8.4, 8.2, 11.8,
     12.2, 10.0, 9.6, 13.8, 13.4, 10.6, 10.4, 16.0, 15.6, 12.4],
    [3.7, 5.8, 8.0, 5.0, 5.0, 12.8, 11.8, 8.8, 8.8, 10.6,
     9.8, 8.0, 9.2, 11.8, 11.6, 7.8, 5.0, 9.4, 8.6, 6.6,
     7.8, 10.2, 9.2, 7.2, 5.4, 7.2, 8.2, 6.6, 4.6, 8.4,
     8.2, 5.4, 6.0, 8.6, 8.2, 6.4, 7.2, 8.6, 8.2, 6.2,
     6.6, 8.8, 9.2, 7.6, 7.4, 9.6, 9.4, 7.6, 7.4, 10.4,
     10.2, 8.0, 7.6, 10.8, 10.2, 7.8, 7.4, 10.6, 10.0, 7.6],
    [4.0, 6.3, 8.6, 5.5, 5.6, 14.0, 13.0, 10.0, 10.0, 11.8,
     11.0, 9.2, 10.6, 14.4, 14.2, 9.8, 6.6, 12.0, 11.0, 8.4,
     10.0, 13.0, 11.8, 9.4, 7.4, 9.8, 10.8, 8.8, 6.2, 11.2,
     11.0, 7.8, 8.6, 12.2, 11.6, 9.6, 10.8, 13.2, 12.4, 9.4,
     8.4, 10.0, 10.0, 8.0, 7.4, 9.4, 9.0, 7.0, 6.8, 10.0,
     10.2, 8.2, 8.4, 12.6, 12.8, 10.6, 10.6, 15.0, 14.6, 11.6],
    [4.2, 6.6, 9.2, 6.0, 6.0, 14.8, 14.0, 11.0, 10.8, 12.8,
     12.2, 10.4, 12.2, 16.0, 15.8, 11.6, 7.8, 13.6, 12.8, 10.2,
     12.0, 15.2, 14.0, 11.4, 8.6, 12.4, 13.2, 10.8, 7.6, 13.4,
     13.0, 9.4, 10.6, 15.2, 14.6, 12.0, 14.0, 17.4, 16.0, 13.0,
     12.6, 16.0, 16.6, 13.8, 13.0, 16.4, 16.0, 13.0, 12.4, 16.2,
     15.8, 12.6, 12.0, 17.0, 16.4, 12.8, 12.4, 18.6, 17.4, 13.8],
    [3.6, 5.6, 7.6, 4.6, 4.6, 12.0, 11.0, 8.0, 7.8, 9.8,
     9.0, 7.2, 8.2, 10.8, 10.4, 7.0, 4.4, 8.4, 7.6, 5.8,
     6.6, 9.0, 8.0, 6.2, 4.4, 6.0, 7.0, 5.4, 3.6, 7.0,
     6.8, 4.4, 4.8, 7.0, 6.6, 5.0, 5.4, 6.8, 6.2, 4.6,
     4.2, 5.6, 5.8, 4.4, 4.0, 5.6, 5.4, 4.0, 3.6, 5.4,
     5.2, 3.6, 3.2, 5.6, 5.2, 3.8, 3.6, 6.2, 6.0, 4.4],
    [3.9, 6.2, 8.5, 5.4, 5.4, 13.8, 12.8, 9.8, 9.6, 11.4,
     10.8, 9.0, 10.2, 13.6, 13.4, 9.4, 6.2, 11.2, 10.6, 8.4,
     9.8, 12.4, 11.4, 9.0, 6.8, 9.8, 10.8, 8.6, 6.2, 11.0,
     11.2, 8.8, 10.0, 13.8, 13.2, 10.6, 11.8, 14.6, 14.0, 11.8,
     11.8, 14.2, 14.0, 11.0, 10.2, 12.6, 12.0, 9.4, 8.8, 11.6,
     11.0, 8.6, 8.2, 11.4, 10.8, 8.4, 8.2, 12.0, 11.4, 9.0],
    [3.8, 6.0, 8.2, 5.2, 5.2, 13.3, 12.4, 9.4, 9.2, 11.0,
     10.4, 8.6, 9.8, 12.8, 12.6, 8.8, 5.8, 10.4, 9.6, 7.2,
     8.2, 11.0, 9.8, 7.8, 5.8, 8.2, 9.0, 7.2, 5.0, 9.4,
     9.0, 6.4, 7.0, 10.0, 9.6, 7.6, 9.0, 11.6, 11.4, 9.4,
     9.4, 12.0, 12.6, 10.8, 10.6, 13.6, 13.4, 11.2, 11.0, 14.4,
     14.2, 11.6, 11.2, 15.2, 14.6, 11.4, 10.8, 14.4, 13.6, 10.6],
    [4.0, 6.4, 8.7, 5.6, 5.6, 14.2, 13.2, 10.2, 9.8, 11.9,
     11.4, 9.6, 11.0, 14.4, 14.2, 10.2, 7.0, 12.4, 11.4, 8.8,
     10.4, 13.6, 12.6, 10.0, 7.6, 10.6, 11.6, 9.4, 6.6, 11.8,
     11.6, 8.0, 8.8, 12.6, 12.2, 9.6, 10.6, 12.6, 12.0, 9.6,
     9.2, 11.4, 11.6, 9.0, 8.4, 10.4, 10.0, 7.8, 7.2, 9.8,
     9.4, 7.0, 6.6, 9.8, 9.4, 7.0, 6.8, 10.2, 9.8, 7.6],
    [3.7, 5.8, 8.0, 5.0, 5.0, 12.6, 11.6, 8.6, 8.6, 10.4,
     9.6, 7.8, 9.0, 11.6, 11.2, 7.6, 4.8, 9.0, 8.2, 6.2,
     7.4, 9.8, 8.8, 6.8, 5.0, 6.8, 7.8, 6.2, 4.2, 8.0,
     7.8, 5.2, 5.8, 8.4, 8.0, 6.2, 7.6, 10.0, 10.2, 8.4,
     8.6, 11.0, 11.4, 9.2, 8.8, 11.6, 11.6, 9.4, 9.2, 12.6,
     12.4, 9.8, 9.4, 13.0, 12.8, 10.0, 9.8, 13.6, 13.2, 10.4],
]

# ---------------- T2m (Celsius)
t2m_mean = [
    3.6, 13.7, 9.7, 5.1, 5.4, 11.5, 8.0, 7.4, 7.8, 9.7,
    8.3, 6.9, 6.9, 7.4, 5.8, 3.6, 3.6, 8.0, 6.5, 4.7,
    5.1, 8.0, 4.0, 2.9, 1.8, 7.2, 4.7, 1.1, 0.2, 8.0,
    5.1, 2.2, 1.6, 9.0, 6.5, 4.4, 4.0, 10.0, 8.0, 5.1,
    4.4, 10.1, 8.3, 5.8, 5.4, 11.2, 8.7, 5.8, 5.4, 10.7,
    8.0, 5.8, 5.1, 9.7, 8.3, 6.2, 5.1, 10.3, 8.7, 6.5]
t2m_control = [
    3.5, 13.6, 9.6, 5.0, 5.2, 11.2, 7.6, 6.8, 7.4, 9.6,
    8.2, 6.8, 6.4, 7.2, 5.4, 2.8, 2.8, 8.4, 6.2, 2.2,
    4.6, 8.5, 4.4, 2.0, 1.0, 7.0, 4.0, 0.2, -0.3, 8.0,
    5.4, 0.2, -0.3, 9.2, 7.0, 2.0, 2.0, 10.2, 8.0, 5.0,
    1.8, 11.0, 9.0, 4.0, 1.6, 12.0, 9.4, 3.3, 3.0, 12.8,
    11.5, 8.0, 6.9, 13.8, 13.3, 9.2, 8.3, 14.6, 11.5, 5.9]
t2m_oper = [
    3.5, 14.7, 10.0, 5.0, 5.2, 12.3, 8.0, 7.3, 7.6, 9.8,
    8.5, 7.0, 7.0, 7.5, 6.0, 3.4, 3.4, 8.3, 6.0, 2.5,
    5.0, 8.0, 4.0, 2.0, 0.5, 7.0, 4.5, 0.5, -0.2, 8.0,
    5.0, 0.8, 0.3, 9.0, 7.0, 2.5, 2.5, 8.0, 7.0, 4.5]
t2m_members = [
    [3.7, 14.0, 10.0, 5.4, 5.7, 12.0, 8.4, 7.8, 8.2, 10.2,
     8.8, 7.4, 7.4, 8.0, 6.4, 4.2, 4.2, 9.0, 7.4, 5.6,
     6.0, 9.4, 5.2, 4.0, 3.0, 9.0, 6.4, 2.8, 2.0, 10.0,
     7.0, 4.2, 3.6, 11.4, 8.6, 6.4, 6.0, 13.0, 10.6, 7.4,
     6.6, 13.4, 11.0, 8.2, 7.8, 14.2, 11.4, 8.0, 7.6, 13.6,
     10.6, 8.0, 7.2, 12.4, 10.8, 8.6, 7.4, 13.0, 11.2, 8.8],
    [3.5, 13.4, 9.4, 4.8, 5.1, 11.0, 7.6, 7.0, 7.4, 9.2,
     7.8, 6.4, 6.4, 6.8, 5.2, 1.8, 1.4, 7.0, 5.6, 3.8,
     4.2, 6.8, 2.8, 1.6, 0.4, 5.6, 3.0, -0.6, -1.6, 6.0,
     3.2, 0.2, -0.4, 6.8, 4.4, 2.4, 2.0, 7.4, 5.6, 2.8,
     2.0, 7.0, 5.4, 3.2, 2.8, 8.0, 5.8, 3.2, 2.8, 7.6,
     5.4, 3.4, 2.8, 7.0, 5.8, 4.0, 3.0, 7.6, 6.2, 4.2],
    [3.6, 13.8, 9.8, 5.2, 5.5, 11.6, 8.2, 7.6, 8.0, 9.9,
     8.5, 7.1, 7.2, 7.8, 6.2, 4.0, 4.0, 8.6, 7.2, 5.4,
     5.8, 9.0, 5.0, 3.8, 2.8, 8.6, 6.0, 2.4, 1.6, 14.4,
     10.0, 4.6, 4.0, 12.6, 9.8, 7.6, 7.0, 17.2, 12.4, 9.0,
     8.2, 20.0, 16.0, 10.0, 9.6, 20.4, 16.0, 10.0, 9.4, 15.0,
     11.6, 8.6, 7.8, 13.0, 11.0, 8.4, 7.4, 12.4, 10.4, 8.0],
    [3.5, 13.5, 9.5, 4.9, 5.2, 11.2, 7.7, 7.1, 7.5, 9.4,
     8.0, 6.6, 6.6, 7.0, 5.4, 3.0, 3.0, 7.4, 5.8, 4.0,
     4.4, 7.2, 3.2, 1.8, 0.8, 6.2, 3.4, -0.2, -1.0, 6.8,
     3.8, 0.8, 0.2, 7.8, 5.2, 3.0, 2.6, 8.6, 6.6, 3.6,
     2.8, 8.8, 7.0, 4.6, 4.2, 9.8, 7.6, 4.8, 4.4, 9.6,
     7.2, 5.0, 4.4, 8.6, 7.2, 5.0, 4.0, 8.8, 7.2, 5.2],
    [3.7, 14.1, 10.1, 5.5, 5.8, 12.2, 8.6, 8.0, 8.4, 10.4,
     9.0, 7.6, 7.6, 8.2, 6.6, 4.4, 4.6, 9.4, 7.8, 6.0,
     6.4, 10.0, 5.8, 4.6, 3.6, 15.4, 10.4, 3.4, 2.6, 11.2,
     8.0, 5.0, 4.4, 15.4, 10.4, 7.8, 7.2, 14.4, 11.6, 8.4,
     7.6, 14.8, 12.0, 9.2, 8.8, 15.6, 12.4, 9.0, 8.6, 19.0,
     13.8, 10.6, 9.6, 16.0, 13.2, 10.2, 9.0, 19.2, 14.0, 10.8],
    [3.6, 13.6, 9.6, 5.0, 5.3, 11.4, 7.9, 7.3, 7.7, 9.6,
     8.2, 6.8, 6.8, 7.2, 5.6, 3.2, 3.2, 7.6, 6.0, 4.2,
     4.6, 7.6, 3.4, 2.0, 1.0, 6.6, 3.8, 0.2, -0.6, 7.4,
     4.4, 1.4, 0.6, 8.4, 6.0, 3.8, 3.4, 9.8, 7.6, 4.6,
     3.8, 10.2, 8.2, 5.6, 5.2, 11.0, 8.4, 5.4, 4.8, 10.4,
     7.8, 5.6, 4.8, 9.6, 8.0, 5.8, 4.8, 10.0, 8.4, 6.2],
    [3.6, 13.7, 9.7, 5.1, 5.4, 11.5, 8.0, 7.4, 7.8, 9.7,
     8.3, 6.9, 7.0, 7.6, 6.0, 3.8, 3.8, 8.2, 6.6, 4.8,
     5.2, 8.2, 4.2, 3.0, 2.0, 7.6, 5.0, 1.4, 0.6, 8.4,
     5.6, 2.8, 2.2, 9.8, 7.2, 5.0, 4.6, 11.0, 8.8, 5.8,
     5.0, 11.4, 9.2, 6.6, 6.2, 12.4, 9.6, 6.6, 6.2, 12.0,
     9.4, 7.0, 6.2, 11.6, 9.6, 7.2, 6.2, 12.4, 10.2, 7.6],
    [3.5, 13.5, 9.5, 5.0, 5.2, 11.2, 7.8, 7.2, 7.6, 9.5,
     8.1, 6.7, 6.7, 7.1, 5.5, 3.2, 3.3, 7.8, 6.3, 4.4,
     4.8, 7.8, 3.6, 2.4, 1.2, 6.4, 3.6, -0.4, -1.8, 6.6,
     3.6, 0.6, -0.2, 7.0, 4.8, 2.8, 2.4, 8.2, 6.4, 3.4,
     2.6, 8.4, 6.6, 4.2, 3.8, 9.2, 7.0, 4.2, 3.8, 9.0,
     6.6, 4.4, 3.8, 8.8, 7.4, 5.2, 4.2, 9.6, 8.0, 5.6],
    [3.7, 13.9, 9.9, 5.3, 5.6, 11.8, 8.3, 7.7, 8.1, 10.0,
     8.6, 7.2, 7.3, 7.9, 6.3, 4.1, 4.2, 8.8, 7.2, 5.4,
     5.8, 9.2, 5.4, 4.2, 3.2, 9.4, 6.8, 3.0, 2.2, 10.6,
     7.6, 4.8, 4.2, 12.0, 9.2, 6.8, 6.4, 13.4, 10.8, 7.6,
     6.8, 12.6, 10.2, 7.4, 7.0, 13.0, 10.2, 7.2, 6.6, 11.6,
     8.8, 6.4, 5.6, 10.6, 8.8, 6.6, 5.6, 11.0, 9.2, 7.0],
    [3.6, 13.6, 9.6, 5.0, 5.3, 11.3, 7.9, 7.3, 7.7, 9.6,
     8.2, 6.8, 6.8, 7.3, 5.7, 3.4, 3.4, 7.8, 6.2, 4.4,
     4.8, 7.6, 3.6, 2.4, 1.4, 6.8, 4.2, 0.6, -0.2, 7.6,
     4.6, 1.6, 1.0, 8.8, 6.2, 4.0, 3.6, 9.8, 7.6, 4.8,
     4.2, 10.6, 8.8, 6.4, 6.0, 12.2, 9.6, 6.8, 6.6, 12.6,
     9.8, 7.6, 7.0, 12.8, 10.6, 8.2, 7.4, 14.0, 11.8, 8.8],
    [3.5, 13.3, 9.3, 4.8, 5.0, 10.9, 7.5, 6.9, 7.3, 9.1,
     7.7, 6.3, 6.2, 6.6, 5.0, 0.6, -0.6, 6.6, 5.2, 3.4,
     3.8, 6.2, 2.2, 1.0, -0.2, 4.8, 2.2, -1.4, -2.8, 5.0,
     2.4, -0.6, -1.6, 5.6, 3.4, 1.4, 1.0, 6.2, 4.4, 1.6,
     0.6, 5.6, 4.2, 2.2, 1.8, 6.6, 4.6, 2.4, 2.0, 6.6,
     4.6, 2.6, 2.2, 6.2, 5.0, 3.2, 2.4, 6.8, 5.4, 3.4],
    [3.7, 14.0, 10.0, 5.4, 5.6, 11.9, 8.4, 7.7, 8.1, 10.1,
     8.7, 7.2, 7.2, 7.8, 6.1, 3.8, 3.9, 8.6, 7.0, 5.2,
     5.6, 8.8, 4.8, 3.6, 2.6, 8.2, 5.6, 1.8, 1.0, 9.2,
     6.2, 3.4, 2.8, 10.6, 8.0, 5.8, 5.4, 12.2, 9.8, 6.8,
     6.0, 12.8, 10.6, 7.8, 7.4, 13.8, 11.0, 7.8, 7.4, 14.2,
     11.4, 8.8, 8.0, 14.4, 12.2, 9.4, 8.4, 15.0, 12.6, 9.6],
    [3.8, 14.3, 10.3, 5.7, 6.0, 12.6, 9.0, 8.4, 8.8, 10.8,
     9.4, 8.0, 8.2, 8.8, 7.2, 5.0, 5.2, 10.2, 8.6, 6.8,
     7.2, 11.0, 6.8, 5.6, 4.6, 11.8, 8.6, 5.0, 4.2, 13.0,
     9.6, 6.6, 6.0, 14.6, 11.6, 9.0, 8.6, 16.0, 13.2, 10.0,
     9.4, 17.4, 14.4, 11.4, 11.0, 18.0, 14.6, 11.2, 10.6, 17.6,
     14.0, 11.2, 10.2, 16.6, 13.6, 10.8, 9.8, 17.4, 14.2, 11.0],
    [3.4, 13.1, 9.1, 4.6, 4.8, 10.6, 7.2, 6.6, 7.0, 8.8,
     7.4, 6.0, 5.8, 6.2, 4.6, 2.2, 1.8, 6.2, 4.6, 2.6,
     2.8, 5.4, 1.4, 0.2, -1.0, 3.8, 1.2, -2.2, -3.2, 3.6,
     1.2, -1.6, -2.4, 4.2, 2.0, 0.2, -0.4, 4.8, 3.0, 0.4,
     -0.6, 4.2, 2.8, 0.8, 0.4, 5.4, 3.4, 1.2, 0.6, 5.0,
     3.0, 1.2, 0.8, 4.8, 3.6, 2.0, 1.2, 5.6, 4.2, 2.4],
    [3.6, 13.8, 9.8, 5.2, 5.4, 11.6, 8.1, 7.5, 7.9, 9.8,
     8.4, 7.0, 7.1, 7.7, 6.1, 3.9, 4.0, 8.4, 6.9, 5.0,
     5.4, 8.6, 4.6, 3.2, 2.2, 7.8, 5.2, 1.6, 0.8, 8.8,
     6.0, 3.2, 2.6, 10.2, 7.8, 5.4, 5.0, 11.8, 9.6, 6.6,
     5.8, 12.2, 10.0, 7.2, 6.6, 11.6, 9.0, 6.4, 5.8, 11.0,
     8.8, 6.6, 5.8, 10.8, 9.2, 7.0, 6.0, 11.2, 9.6, 7.4],
    [3.6, 13.5, 9.5, 5.0, 5.3, 11.3, 7.8, 7.2, 7.6, 9.5,
     8.1, 6.7, 6.6, 7.1, 5.5, 3.3, 3.2, 7.5, 5.9, 4.0,
     4.4, 7.4, 3.2, 1.8, 0.6, 6.0, 3.2, -0.8, -1.4, 6.4,
     3.8, 1.0, 0.4, 8.0, 5.8, 3.6, 3.2, 9.4, 7.4, 4.4,
     3.4, 9.6, 7.8, 5.2, 4.8, 10.6, 8.4, 5.6, 5.2, 11.4,
     9.0, 6.8, 6.2, 12.0, 10.2, 7.8, 7.0, 13.4, 11.4, 8.4],
    [3.7, 13.9, 9.9, 5.3, 5.6, 11.7, 8.2, 7.6, 8.0, 9.9,
     8.5, 7.1, 7.1, 7.7, 6.2, 4.0, 4.1, 8.8, 7.2, 5.2,
     5.6, 9.0, 5.0, 3.6, 2.6, 8.4, 5.8, 2.0, 1.4, 9.8,
     6.8, 3.8, 3.2, 11.2, 8.4, 6.0, 5.6, 12.8, 10.4, 7.2,
     6.4, 13.6, 11.2, 8.2, 7.8, 14.8, 11.8, 8.4, 7.8, 13.2,
     10.2, 7.4, 6.4, 11.8, 9.6, 7.2, 6.2, 11.8, 9.8, 7.4],
    [3.5, 13.4, 9.4, 4.9, 5.1, 11.1, 7.6, 7.0, 7.4, 9.3,
     7.9, 6.5, 6.5, 6.9, 5.3, 2.9, 2.9, 7.2, 5.6, 3.6,
     4.0, 6.8, 2.6, 1.2, 0.2, 5.2, 2.6, -1.0, -2.2, 5.6,
     3.0, 0.2, -0.8, 6.2, 4.0, 2.0, 1.6, 7.0, 5.2, 2.4,
     1.4, 7.4, 5.8, 3.4, 3.0, 8.6, 6.4, 3.8, 3.4, 8.4,
     6.0, 4.0, 3.4, 8.2, 6.8, 4.6, 3.6, 9.0, 7.4, 5.0],
]

# ---------------- Sneeuwval / 6 uur (cm)
snow_mean = [
    0, 0, 0, 0, 0, 0, 0, 0, 0, 0,
    0, 0, 0, 0, 0, 0, 0, 0, 0, 0,
    0, 0, 0.02, 0, 0, 0.02, 0, 0, 0.01, 0,
    0, 0, 0, 0.02, 0, 0, 0.03, 0.02, 0, 0,
    0.02, 0.02, 0, 0, 0, 0.03, 0.02, 0, 0, 0,
    0, 0, 0, 0, 0, 0, 0, 0, 0, 0]
snow_control = [0] * 60
snow_oper = [0] * 40
snow_members = [
    [0, 0, 0, 0, 0, 0, 0, 0, 0, 0,
     0, 0, 0, 0, 0, 0, 0, 0, 0, 0,
     0, 0, 0.6, 0.1, 0, 0, 0, 0, 0.6, 0.2,
     0, 0, 0, 0, 0, 0, 0, 0, 0, 0,
     0.7, 0.6, 0.4, 0.1, 0, 0, 0, 0, 0, 0,
     0, 0, 0, 0, 0, 0, 0, 0, 0, 0],
    [0, 0, 0, 0, 0, 0, 0, 0, 0, 0,
     0, 0, 0, 0, 0, 0, 0, 0, 0, 0,
     0, 0, 0, 0, 0.5, 0.1, 0, 0, 0, 0,
     0, 0, 0, 0.8, 0, 0, 1.1, 0.1, 0, 0,
     0, 0, 0, 0, 0, 1.2, 0.3, 0, 0, 0,
     0, 0, 0, 0, 0, 0, 0, 0, 0, 0],
    [0, 0, 0, 0, 0, 0, 0, 0, 0, 0,
     0, 0, 0, 0, 0, 0, 0, 0, 0, 0,
     0, 0, 0.2, 0, 0, 0.4, 0.1, 0, 0, 0,
     0, 0, 0, 0, 0, 0, 0, 1.0, 0, 0,
     0.2, 0.1, 0, 0, 0, 0, 1.0, 0.1, 0, 0,
     0, 0, 0, 0, 0, 0, 0, 0, 0, 0],
    [0, 0, 0, 0, 0, 0, 0, 0, 0, 0,
     0, 0, 0, 0, 0, 0, 0, 0, 0, 0,
     0, 0.1, 0.1, 0, 0, 0.2, 0, 0, 0, 0,
     0, 0, 0, 0, 0, 0.2, 0.6, 0, 0, 0,
     0.6, 0.5, 0, 0, 0.4, 0.7, 0, 0, 0, 0,
     0, 0, 0.1, 0.1, 0, 0, 0, 0.1, 0, 0],
    [0, 0, 0, 0, 0, 0, 0, 0, 0, 0,
     0, 0, 0, 0, 0, 0, 0, 0, 0, 0,
     0, 0, 0, 0, 0, 0, 0, 0.1, 0.1, 0,
     0, 0, 0, 0, 0, 0, 0, 0, 0, 0,
     0, 0.2, 0, 0, 0, 0, 0, 0, 0, 0,
     0, 0, 0, 0, 0.1, 0, 0, 0, 0, 0],
]

MEMBER_COLOR = "#74b03c"
CONTROL_COLOR = "#1f1fff"
OPER_COLOR = "#ff0000"
MEAN_COLOR = "#7a1010"
FRAME_COLOR = "#3c3cff"

COLS = [(32.3, 358.3), (420.3, 746.3)]
ROWS = [(17.7, 155.7), (202.7, 340.7), (385.7, 524.7)]


def add_px_axes(fig, col, row):
    left, right = COLS[col]
    top, bottom = ROWS[row]
    return fig.add_axes([left / W, 1 - bottom / H, (right - left) / W, (bottom - top) / H])


def draw_legend(ax):
    rows = [
        ("Control", dict(color=CONTROL_COLOR, ls=(0, (4, 2)), lw=1.3), 0.107),
        ("Oper", dict(color=OPER_COLOR, ls="-", lw=1.1), 0.125),
        ("Ens mn", dict(color=MEAN_COLOR, ls=(0, (1, 1)), lw=2.0), 0.107),
    ]
    for i, (label, style, tx) in enumerate(rows):
        y = 0.951 - i * 0.049
        ax.plot([0.009, 0.077], [y, y], transform=ax.transAxes, clip_on=False, **style)
        ax.text(tx, y, label, transform=ax.transAxes, fontsize=5.5, va="center")


def draw_panel(ax, members, control, oper, mean, ylim, ystep, ylabel, varname, refs=()):
    for y, kind in refs:
        if kind == "dot":
            ax.axhline(y, color="black", lw=0.8, ls=(0, (1, 1.5)), zorder=1)
        elif kind == "magenta":
            ax.axhline(y, color="#ff00ff", lw=1.0, ls=(0, (4, 2)), zorder=1)
        else:
            ax.axhline(y, color="black", lw=2.2, zorder=1)

    for m in members:
        ax.plot(hours, m, color=MEMBER_COLOR, lw=0.9, alpha=0.75, zorder=2)
    ax.plot(oper_hours, oper, color=OPER_COLOR, lw=1.1, zorder=4)
    ax.plot(hours, control, color=CONTROL_COLOR, lw=1.2, ls=(0, (4, 2)), zorder=5)
    ax.plot(hours, mean, color=MEAN_COLOR, lw=2.0, ls=(0, (1, 1)), zorder=6)

    ax.set_xlim(0, 360)
    ax.set_ylim(*ylim)
    ax.set_yticks(range(ylim[0], ylim[1] + 1, ystep))
    ax.tick_params(axis="y", direction="out", length=2.5, width=0.8, labelsize=6.2,
                   pad=1.5, right=True, labelright=True)
    for t in ax.yaxis.get_major_ticks():
        t.label1.set_fontweight("bold")
        t.label2.set_fontweight("bold")

    ax.set_xticks(range(0, 361, 24), ["00"] * 16)
    ax.set_xticks(range(12, 360, 24), day_names, minor=True)
    ax.tick_params(axis="x", which="major", length=0, labelsize=3.8, pad=1.2)
    ax.tick_params(axis="x", which="minor", length=0, labelsize=6.8, pad=3.2)

    ax.spines["top"].set_visible(False)
    ax.spines["right"].set_linewidth(1.8)
    ax.spines["right"].set_color("#333333")
    ax.spines["left"].set_linewidth(0.8)
    ax.spines["bottom"].set_linewidth(0.8)

    ax.text(0.5, 1 + 10.4 / 138, title, transform=ax.transAxes, ha="center",
            va="center", fontsize=8)
    ax.text(0.883, 0.957, "De Bilt", transform=ax.transAxes, ha="center",
            va="center", fontsize=7)
    ax.text(0.883, 0.879, varname, transform=ax.transAxes, ha="center",
            va="center", fontsize=7)
    ax.text(-0.062, 0.5, ylabel, transform=ax.transAxes, rotation=90, ha="center",
            va="center", fontsize=8.5, fontweight="bold")
    ax.text(0.5, -0.125, "Dag", transform=ax.transAxes, ha="center", va="center",
            fontsize=7.8, fontweight="bold")
    ax.text(1 + 13.4 / 326, -0.128, "Bron: ECMWF/KNMI", transform=ax.transAxes,
            ha="right", va="center", fontsize=5, fontweight="bold", color="blue")
    draw_legend(ax)


fig = plt.figure(figsize=(W / 100, H / 100), dpi=100)

ax = add_px_axes(fig, 0, 0)
draw_panel(ax, precip_members, precip_control, precip_oper, precip_mean,
           (0, 20), 5, "mm", "Neerslag/6 uur", [(15, "dot")])

ax = add_px_axes(fig, 1, 0)
draw_panel(ax, accum_members, accum_control, accum_oper, accum_mean,
           (0, 50), 10, "mm", "Accum Neerslag")

ax = add_px_axes(fig, 0, 1)
draw_panel(ax, wind_members, wind_control, wind_oper, wind_mean,
           (0, 20), 5, "m/s", "10m wind",
           [(10.8, "dot"), (13.9, "dot"), (17.2, "dot")])

ax = add_px_axes(fig, 1, 1)
draw_panel(ax, gust_members, gust_control, gust_oper, gust_mean,
           (0, 30), 5, "m/s", "Windstoten",
           [(20, "dot"), (25, "dot"), (28.5, "magenta")])

ax = add_px_axes(fig, 0, 2)
draw_panel(ax, t2m_members, t2m_control, t2m_oper, t2m_mean,
           (-5, 25), 5, "Celsius", "T2m", [(0, "zero")])

ax = add_px_axes(fig, 1, 2)
draw_panel(ax, snow_members, snow_control, snow_oper, snow_mean,
           (0, 5), 1, "cm", "Sneeuwval/6 uur")

# blue frame round and between the panels
frame = [
    ((1, 1), (776.5, 1)), ((1, 551.5), (776.5, 551.5)),
    ((1, 1), (1, 551.5)), ((776.5, 1), (776.5, 551.5)),
    ((389, 1), (389, 551.5)),
    ((1, 183.5), (776.5, 183.5)), ((1, 367.5), (776.5, 367.5)),
]
for (x0, y0), (x1, y1) in frame:
    fig.add_artist(Line2D([x0 / W, x1 / W], [1 - y0 / H, 1 - y1 / H],
                          color=FRAME_COLOR, lw=1.0))

fig.savefig("out.png", dpi=100)
